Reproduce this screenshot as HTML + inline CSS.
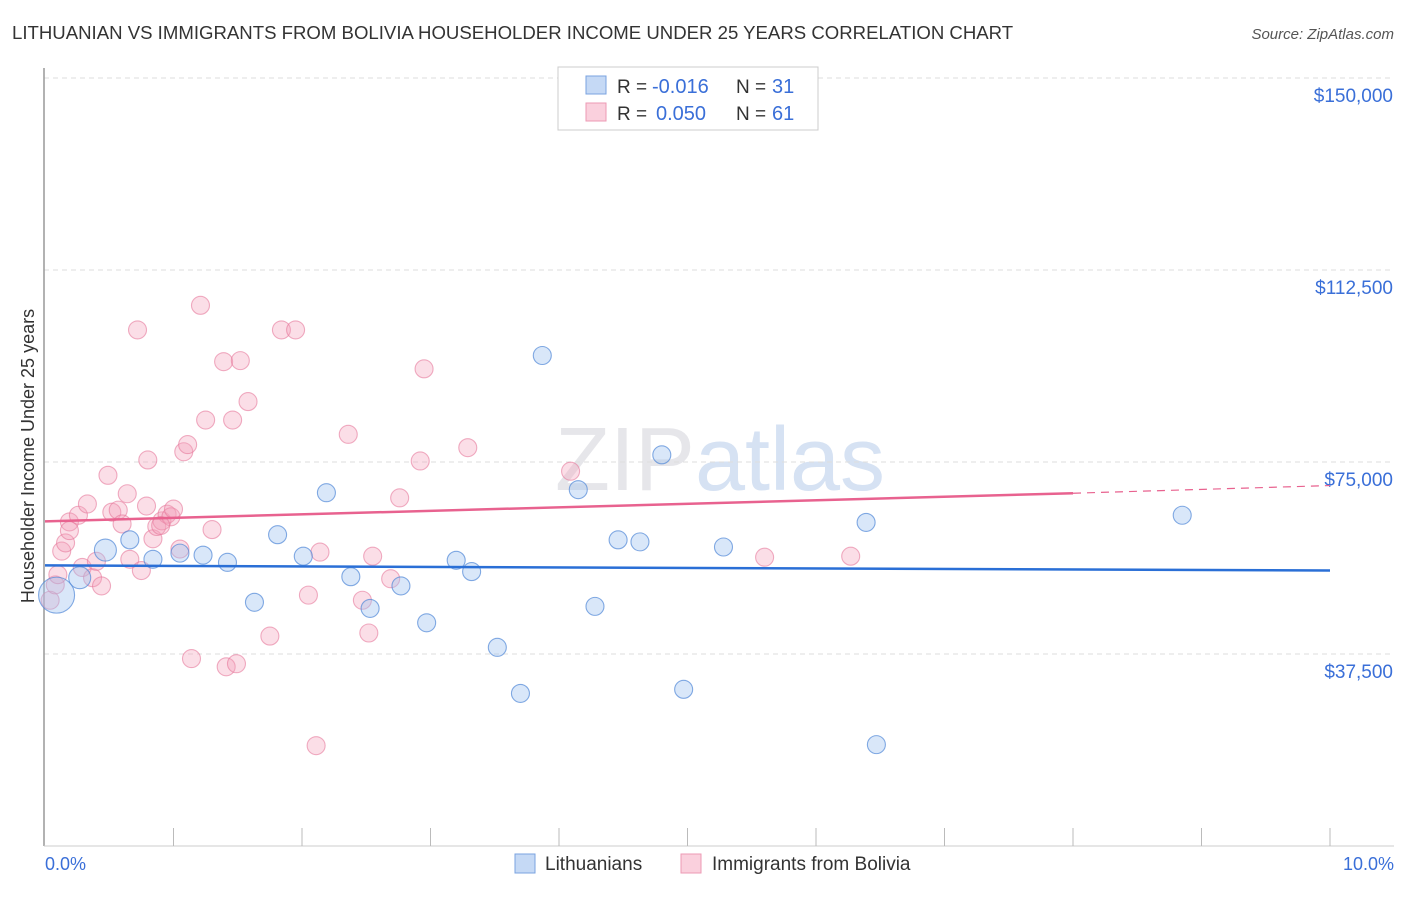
<!DOCTYPE html>
<html><head><meta charset="utf-8"><style>
body{margin:0;background:#fff;font-family:"Liberation Sans",sans-serif;}
svg text{font-family:"Liberation Sans",sans-serif;}
</style></head><body>
<svg width="1406" height="892" xmlns="http://www.w3.org/2000/svg">
<text x="12" y="39" font-size="18.6" fill="#333">LITHUANIAN VS IMMIGRANTS FROM BOLIVIA HOUSEHOLDER INCOME UNDER 25 YEARS CORRELATION CHART</text>
<text x="1394" y="39" font-size="15" fill="#555" text-anchor="end" font-style="italic">Source: ZipAtlas.com</text>
<text x="720" y="490" font-size="90" fill="#e6e6ea" text-anchor="middle" font-family="Liberation Serif">ZIP<tspan fill="#d6e2f3" font-family="Liberation Sans">atlas</tspan></text>
<g id="grid"></g>
<line x1="44" y1="68" x2="44" y2="846" stroke="#999" stroke-width="1.5"/>
<line x1="44" y1="846" x2="1394" y2="846" stroke="#ccc"/>
<g id="xticks"></g>
<text x="45" y="870" font-size="18" fill="#3a6fd8">0.0%</text>
<text x="1394" y="870" font-size="18" fill="#3a6fd8" text-anchor="end">10.0%</text>
<text transform="translate(34,456) rotate(-90)" font-size="18" fill="#333" text-anchor="middle">Householder Income Under 25 years</text>
<g id="pts"></g>
<g id="lines"></g>
<g>
<rect x="558" y="67" width="260" height="63" fill="#fff" stroke="#ccc"/>
<rect x="586" y="76" width="20" height="18" fill="#c5d9f5" stroke="#7aa3e0"/>
<rect x="586" y="103" width="20" height="18" fill="#fad0dd" stroke="#ec9ab4"/>
<text x="617" y="93" font-size="19" fill="#333">R =</text>
<text x="652" y="93" font-size="20" fill="#3a6fd8">-0.016</text>
<text x="736" y="93" font-size="19" fill="#333">N =</text>
<text x="772" y="93" font-size="20" fill="#3a6fd8">31</text>
<text x="617" y="120" font-size="19" fill="#333">R =</text>
<text x="656" y="120" font-size="20" fill="#3a6fd8">0.050</text>
<text x="736" y="120" font-size="19" fill="#333">N =</text>
<text x="772" y="120" font-size="20" fill="#3a6fd8">61</text>
</g>
<g>
<rect x="515" y="854" width="20" height="19" fill="#c5d9f5" stroke="#7aa3e0"/>
<text x="545" y="870" font-size="19" fill="#333">Lithuanians</text>
<rect x="681" y="854" width="20" height="19" fill="#fad0dd" stroke="#ec9ab4"/>
<text x="712" y="870" font-size="19" fill="#333">Immigrants from Bolivia</text>
</g>
</svg>
<script>
const yTicks=[37500,75000,112500,150000];
const yTickLabels=["$37,500","$75,000","$112,500","$150,000"];
const blueX=[0.09,0.27,0.47,0.66,0.84,1.05,1.23,1.42,1.63,1.81,2.01,2.19,2.38,2.53,2.77,2.97,3.2,3.32,3.52,3.7,3.87,4.15,4.28,4.46,4.63,4.8,4.97,5.28,6.39,6.47,8.85];
const blueY=[49000,52400,57800,59800,56000,57200,56800,55400,47600,60800,56600,69000,52600,46400,50800,43600,55800,53600,38800,29800,95800,69600,46800,59800,59400,76400,30600,58400,63200,19800,64600];
const blueR=[18,11,11,9,9,9,9,9,9,9,9,9,9,9,9,9,9,9,9,9,9,9,9,9,9,9,9,9,9,9,9];
const pinkX=[0.04,0.08,0.1,0.13,0.16,0.19,0.26,0.29,0.33,0.37,0.4,0.44,0.49,0.52,0.57,0.6,0.64,0.66,0.72,0.75,0.79,0.8,0.84,0.87,0.91,0.95,0.98,1.0,1.05,1.08,1.11,1.14,1.21,1.25,1.3,1.39,1.41,1.46,1.49,1.52,1.58,1.75,1.84,1.95,2.05,2.11,2.14,2.36,2.47,2.52,2.55,2.69,2.76,2.92,2.95,3.29,4.09,5.6,6.27,0.9,0.19];
const pinkY=[48000,51000,53000,57600,59200,63300,64600,54400,66800,52400,55600,50800,72400,65200,65600,62900,68800,56000,100800,53800,66400,75400,60000,62400,63500,64800,64300,65800,58000,77000,78400,36600,105600,83200,61800,94600,35000,83200,35600,94800,86800,41000,100800,100800,49000,19600,57400,80400,48000,41600,56600,52200,68000,75200,93200,77800,73200,56400,56600,62600,61600];
const blueLine=[54800,53800];
const pinkLine=[63400,68900,70400];
const X=v=>45+v/10*1285, Y=v=>846-v/37500*192;
const NS="http://www.w3.org/2000/svg";
function mk(t,a,p){const e=document.createElementNS(NS,t);for(const k in a)e.setAttribute(k,a[k]);p.appendChild(e);return e;}
const grid=document.getElementById('grid');
yTicks.forEach((t,i)=>{
 const l=mk('line',{x1:44,x2:1394,y1:Y(t),y2:Y(t),stroke:'#ddd','stroke-dasharray':'5,4'},grid);
 
 
 const tx=mk('text',{x:1393,y:Y(t)+24,'font-size':19,fill:'#3a6fd8','text-anchor':'end'},grid);
 tx.textContent=yTickLabels[i];
 
 
});
const xt=document.getElementById('xticks');
for(let i=1;i<=10;i++){const l=mk('line',{x1:X(i),x2:X(i),y1:828,y2:846,stroke:'#bbb'},xt);
 
 }
const pts=document.getElementById('pts');
pinkX.forEach((x,i)=>{const c=mk('circle',{cx:X(x),cy:Y(pinkY[i]),r:9,fill:'rgba(244,160,186,0.35)',stroke:'rgba(230,120,155,0.6)','stroke-width':1.1},pts);
 
 });
blueX.forEach((x,i)=>{const c=mk('circle',{cx:X(x),cy:Y(blueY[i]),r:blueR[i],fill:'rgba(160,195,240,0.4)',stroke:'rgba(80,135,215,0.7)','stroke-width':1.1},pts);
 
 });
const ln=document.getElementById('lines');
let a=mk('line',{x1:X(0),x2:X(10),y1:Y(blueLine[0]),y2:Y(blueLine[1]),stroke:'#2a6fd6','stroke-width':2.5},ln);


let b=mk('line',{x1:X(0),x2:X(8),y1:Y(pinkLine[0]),y2:Y(pinkLine[1]),stroke:'#e8628f','stroke-width':2.5},ln);


let c=mk('line',{x1:X(8),x2:X(10),y1:Y(pinkLine[1]),y2:Y(pinkLine[2]),stroke:'#e8628f','stroke-width':1.2,'stroke-dasharray':'8,6'},ln);


</script>
</body></html>
